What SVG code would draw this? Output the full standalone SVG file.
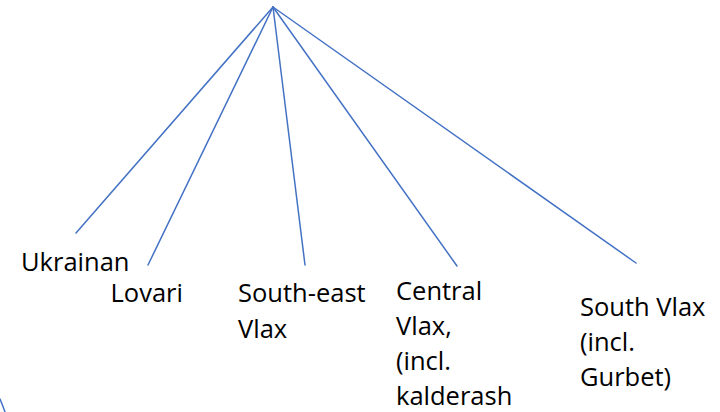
<svg xmlns="http://www.w3.org/2000/svg" width="720" height="412" viewBox="0 0 720 412">
<style>
.c{stroke:#4472C4;stroke-width:1.5;fill:none;stroke-linecap:round}
.t{font-family:"Open Sans","Liberation Sans",sans-serif;font-size:25.5px;fill:#000}
</style>
<rect width="720" height="412" fill="#fff"/>
<g id="connectors">
<line class="c" x1="273" y1="7" x2="76" y2="233"/>
<line class="c" x1="273" y1="7" x2="148" y2="265"/>
<line class="c" x1="273" y1="7" x2="305" y2="265"/>
<line class="c" x1="273" y1="7" x2="457" y2="266"/>
<line class="c" x1="273" y1="7" x2="636" y2="263"/>
<path class="c" d="M0,399 Q2.5,405 5,412"/>
</g>
<g id="ukrainan"><text class="t" x="21" y="271">Ukrainan</text></g>
<g id="lovari"><text class="t" x="110.5" y="302">Lovari</text></g>
<g id="southeast"><text class="t" x="238" y="302">South-east</text><text class="t" x="238" y="338">Vlax</text></g>
<g id="central"><text class="t" x="396" y="300">Central</text><text class="t" x="396" y="335">Vlax,</text><text class="t" x="396" y="370">(incl.</text><text class="t" x="396" y="405">kalderash</text></g>
<g id="southvlax"><text class="t" x="580" y="316">South Vlax</text><text class="t" x="580" y="351">(incl.</text><text class="t" x="580" y="386">Gurbet)</text></g>
</svg>
